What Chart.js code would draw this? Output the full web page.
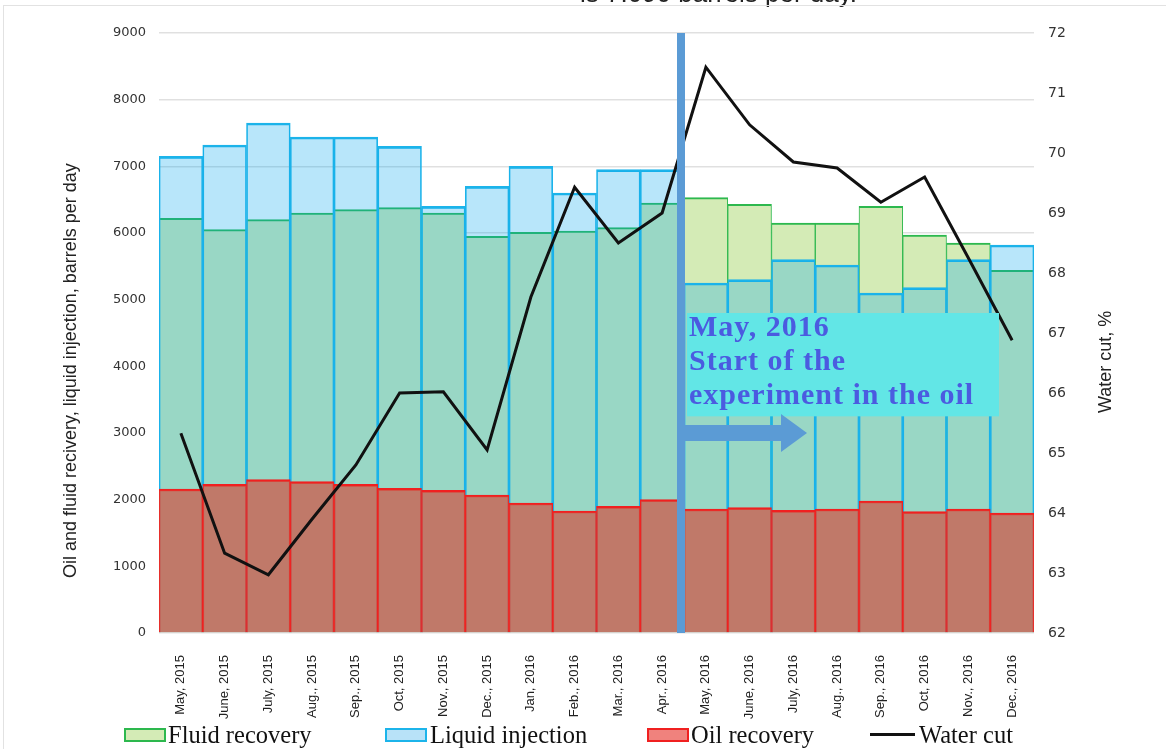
<!DOCTYPE html>
<html>
<head>
<meta charset="utf-8">
<script src="https://cdn.jsdelivr.net/npm/chart.js@4.4.1/dist/chart.umd.min.js"></script>
<style>
  body { margin: 0; width: 1166px; height: 749px; position: relative; overflow: hidden; background: #fff; }
  #chart { position: absolute; left: 0; top: 0; }
  .over { position: absolute; z-index: 2; pointer-events: none; white-space: nowrap; }
  .leg { font-family: "Liberation Serif", serif; font-size: 24.5px; color: #111; line-height: 26px; top: 722px; }
  .box { top: 728px; width: 38px; height: 10px; border: 2px solid; }
  .ytitle { font-family: "Liberation Sans", Arial, sans-serif; font-size: 18px; color: #222; transform-origin: 0 0; transform: rotate(-90deg); }
</style>
</head>
<body>
<div class="over" style="left:580px; top:-20px; font-family:'Liberation Sans',Arial,sans-serif; font-size:26px; line-height:26px; color:#222;">is 7.090 barrels per day.</div>
<div class="over" style="left:3px; top:5px; width:1170px; height:760px; border:1px solid #e2e2e2;"></div>

<div class="over ytitle" style="left:60px; top:578px;">Oil and fluid recivery, liquid injection, barrels per day</div>
<div class="over ytitle" style="left:1095px; top:413px;">Water cut, %</div>

<div class="over box" style="left:124px; background:rgb(212,235,182); border-color:#2db84e;"></div>
<div class="over leg" style="left:168px;">Fluid recovery</div>
<div class="over box" style="left:385px; background:rgb(184,226,248); border-color:#1cb4ea;"></div>
<div class="over leg" style="left:430px;">Liquid injection</div>
<div class="over box" style="left:647px; background:rgb(240,130,125); border-color:#f02020;"></div>
<div class="over leg" style="left:691px;">Oil recovery</div>
<div class="over" style="left:870px; top:733px; width:45px; height:3px; background:#111;"></div>
<div class="over leg" style="left:919px;">Water cut</div>

<canvas id="chart" width="1166" height="749"></canvas>

<script>
const months = ['May, 2015', 'June, 2015', 'July, 2015', 'Aug., 2015', 'Sep., 2015', 'Oct, 2015', 'Nov., 2015',
    'Dec., 2015', 'Jan, 2016', 'Feb., 2016', 'Mar., 2016', 'Apr., 2016', 'May, 2016', 'June, 2016',
    'July, 2016', 'Aug., 2016', 'Sep., 2016', 'Oct, 2016', 'Nov., 2016', 'Dec., 2016'];
const fluidRecovery = [6220, 6050, 6200, 6300, 6350, 6380, 6300, 5950, 6010, 6030, 6080, 6450,
    6530, 6430, 6150, 6150, 6400, 5970, 5850, 5440];
const liquidInjection = [7150, 7320, 7650, 7440, 7440, 7300, 6400, 6700, 7000, 6600, 6950, 6950,
    5250, 5300, 5600, 5520, 5100, 5180, 5600, 5820];
const oilRecovery = [2160, 2230, 2300, 2270, 2230, 2170, 2140, 2070, 1950, 1830, 1900, 2000,
    1860, 1880, 1840, 1860, 1980, 1820, 1860, 1800];
const waterCut = [65.33, 63.33, 62.97, 63.9, 64.8, 66.0, 66.02, 65.05, 67.6, 69.43, 68.5, 69.0,
    71.43, 70.47, 69.85, 69.75, 69.18, 69.6, 68.25, 66.88];
const barrelTicks = [0, 1000, 2000, 3000, 4000, 5000, 6000, 7000, 8000, 9000];
const cutTicks = [62, 63, 64, 65, 66, 67, 68, 69, 70, 71, 72];

const noteLines = ['May, 2016', 'Start of the', 'experiment in the oil'];

const extras = {
    id: 'extras',
    beforeDraw(chart) {
        const c = chart.ctx;
        c.save();
        c.fillStyle = '#fff';
        c.fillRect(0, 0, chart.width, chart.height);
        c.restore();
    },
    afterDraw(chart) {
        const c = chart.ctx;
        const x = chart.scales.x, y = chart.scales.y;
        const area = chart.chartArea;
        const lx = (x.getPixelForValue(11) + x.getPixelForValue(12)) / 2 - 3;
        c.save();
        // note box
        const top = y.getPixelForValue(4800), bot = y.getPixelForValue(3250);
        c.fillStyle = '#62e6e6';
        c.fillRect(lx + 6, top, 312, bot - top);
        c.fillStyle = '#4b5be0';
        c.font = 'bold 30px "Liberation Serif", serif';
        c.letterSpacing = '1px';
        c.textBaseline = 'alphabetic';
        noteLines.forEach((t, i) => c.fillText(t, lx + 8, top + 23 + i * 34));
        // vertical line
        c.fillStyle = '#5b9bd5';
        c.fillRect(lx - 4, area.top, 8, area.bottom - area.top);
        // arrow
        const ay = y.getPixelForValue(3000);
        c.fillRect(lx, ay - 8, 100, 16);
        c.beginPath();
        c.moveTo(lx + 100, ay - 19);
        c.lineTo(lx + 126, ay);
        c.lineTo(lx + 100, ay + 19);
        c.closePath();
        c.fill();
        c.restore();
    }
};

const barCommon = { type: 'bar', grouped: false, barPercentage: 1, categoryPercentage: 1, yAxisID: 'y' };

new Chart(document.getElementById('chart'), {
    data: {
        labels: months,
        datasets: [
            Object.assign({}, barCommon, {
                label: 'Fluid recovery',
                data: fluidRecovery,
                backgroundColor: 'rgb(212,235,182)',
                borderColor: '#2db84e',
                borderWidth: { top: 2, left: 1, right: 1, bottom: 0 },
                order: 3
            }),
            Object.assign({}, barCommon, {
                label: 'Liquid injection',
                data: liquidInjection,
                backgroundColor: 'rgba(0,166,237,0.28)',
                borderColor: '#1cb4ea',
                borderWidth: { top: 2, left: 1, right: 1, bottom: 0 },
                order: 2
            }),
            Object.assign({}, barCommon, {
                label: 'Oil recovery',
                data: oilRecovery,
                backgroundColor: 'rgba(206,89,74,0.75)',
                borderColor: '#f02020',
                borderWidth: { top: 2, left: 1, right: 1, bottom: 0 },
                order: 1
            }),
            {
                type: 'line',
                label: 'Water cut',
                data: waterCut,
                yAxisID: 'y1',
                borderColor: '#111',
                borderWidth: 3,
                pointRadius: 0,
                tension: 0,
                order: 0
            }
        ]
    },
    options: {
        responsive: false,
        animation: false,
        layout: { padding: { top: 33, left: 0, right: 0, bottom: 0 } },
        plugins: { legend: { display: false }, tooltip: { enabled: false } },
        scales: {
            x: {
                offset: true,
                grid: { display: false },
                border: { display: false },
                ticks: {
                    autoSkip: false, minRotation: 90, maxRotation: 90, padding: 14,
                    color: '#222', font: { family: '"Liberation Sans", Arial, sans-serif', size: 13 }
                },
                afterFit(s) { s.height = 116; }
            },
            y: {
                position: 'left',
                min: 0, max: 9000,
                z: 1,
                afterBuildTicks(s) { s.ticks = barrelTicks.map(v => ({ value: v })); },
                grid: { color: 'rgba(0,0,0,0.12)', lineWidth: 1.5, drawTicks: false },
                border: { display: false },
                ticks: {
                    padding: 13, color: '#333', font: { family: '"DejaVu Sans", sans-serif', size: 13 },
                    callback: v => String(v)
                },
                afterFit(s) { s.width = 159; }
            },
            y1: {
                position: 'right',
                min: 62, max: 72,
                afterBuildTicks(s) { s.ticks = cutTicks.map(v => ({ value: v })); },
                grid: { display: false, drawTicks: false },
                border: { display: false },
                ticks: {
                    padding: 14, color: '#333', font: { family: '"DejaVu Sans", sans-serif', size: 14 },
                    callback: v => String(v)
                },
                afterFit(s) { s.width = 132; }
            }
        }
    },
    plugins: [extras]
});
</script>
</body>
</html>
